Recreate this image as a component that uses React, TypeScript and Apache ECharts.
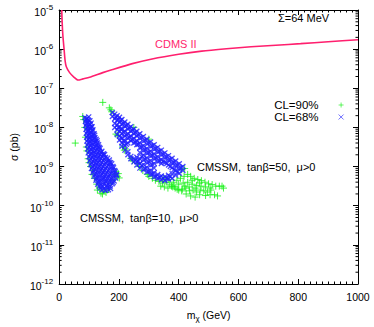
import React, { useEffect, useRef } from "react";
import * as echarts from "echarts";

// ---- axes ----
const xMin = 0;
const xMax = 1000;
const xInterval = 200;
const yMinExp = -12;
const yMaxExp = -5;
const decadeExps = [-12, -11, -10, -9, -8, -7, -6];
const minorMantissas = [2, 3, 4, 5, 6, 7, 8, 9];

// ---- CDMS II limit curve: mass (GeV), log10 sigma (pb) ----
const cdmsMass = [8.8, 10, 12.5, 16.5, 20, 24, 35, 50, 63, 80, 102, 146, 179, 245, 311, 400, 477, 560, 642, 725, 808, 900, 1000];
const cdmsLogSigma = [-5.0, -5.3, -5.65, -6.0, -6.3, -6.45, -6.6, -6.72, -6.79, -6.76, -6.72, -6.6, -6.52, -6.37, -6.25, -6.13, -6.05, -5.99, -5.94, -5.9, -5.86, -5.81, -5.76];

// ---- CMSSM points: [mass GeV, log10 sigma pb] ----
const cl90Tan10: [number, number][] = [
  [54, -8.4], [79, -7.72], [82, -7.8], [86, -8.0], [88, -8.25], [91, -8.5], [93, -8.6], [97, -8.8], [100, -8.9],
  [105, -9.0], [110, -9.2], [113, -9.1], [118, -9.3], [126, -9.45], [128, -9.6], [135, -9.55], [140, -9.68],
  [145, -9.7], [150, -9.62], [157, -9.66], [165, -9.58], [173, -9.42], [180, -9.35], [185, -9.2], [190, -9.13],
  [195, -9.25], [198, -9.18], [201, -9.29],
];
const cl68Tan10: [number, number][] = [
  [86, -7.75], [93, -7.77], [99, -7.73],
  [88, -7.85], [95, -7.87], [103, -7.83],
  [89, -7.95], [97, -7.97], [104, -7.93], [110, -7.98],
  [90, -8.05], [98, -8.07], [106, -8.03], [113, -8.06],
  [91, -8.15], [100, -8.17], [108, -8.13], [117, -8.16],
  [92, -8.25], [101, -8.27], [111, -8.23], [120, -8.26],
  [93, -8.35], [102, -8.37], [112, -8.33], [121, -8.36], [127, -8.34],
  [94, -8.45], [104, -8.47], [114, -8.43], [124, -8.46], [132, -8.44],
  [96, -8.55], [106, -8.57], [116, -8.53], [126, -8.56], [137, -8.54],
  [97, -8.65], [107, -8.67], [118, -8.63], [129, -8.66], [140, -8.64], [148, -8.67],
  [100, -8.75], [110, -8.77], [121, -8.73], [132, -8.76], [143, -8.74], [155, -8.77],
  [102, -8.85], [113, -8.87], [124, -8.83], [135, -8.86], [147, -8.84], [160, -8.87], [168, -8.83],
  [105, -8.95], [116, -8.97], [127, -8.93], [139, -8.96], [151, -8.94], [164, -8.97], [176, -8.93],
  [108, -9.05], [119, -9.07], [131, -9.03], [143, -9.06], [155, -9.04], [168, -9.07], [182, -9.03],
  [112, -9.15], [123, -9.17], [135, -9.13], [147, -9.16], [160, -9.14], [173, -9.17], [188, -9.13],
  [117, -9.25], [128, -9.27], [140, -9.23], [152, -9.26], [165, -9.24], [178, -9.27], [192, -9.23],
  [123, -9.35], [134, -9.37], [146, -9.33], [158, -9.36], [171, -9.34], [184, -9.37],
  [129, -9.45], [141, -9.47], [153, -9.43], [165, -9.46], [178, -9.44],
  [137, -9.55], [149, -9.57], [161, -9.53], [172, -9.56],
  // interleaved rows
  [90, -7.8], [97, -7.81],
  [92, -7.9], [100, -7.91], [107, -7.89],
  [94, -8.0], [102, -8.01], [109, -7.99],
  [95, -8.1], [104, -8.11], [112, -8.09],
  [96, -8.2], [105, -8.21], [114, -8.19], [119, -8.2],
  [97, -8.3], [106, -8.31], [116, -8.29], [124, -8.3],
  [98, -8.4], [108, -8.41], [119, -8.39], [128, -8.4],
  [100, -8.5], [110, -8.51], [121, -8.49], [131, -8.5], [135, -8.51],
  [101, -8.6], [112, -8.61], [123, -8.59], [134, -8.6], [143, -8.61],
  [104, -8.7], [115, -8.71], [126, -8.69], [137, -8.7], [148, -8.71], [152, -8.69],
  [106, -8.8], [117, -8.81], [129, -8.79], [140, -8.8], [151, -8.81], [162, -8.79],
  [109, -8.9], [120, -8.91], [131, -8.89], [143, -8.9], [156, -8.91], [168, -8.89], [172, -8.9],
  [112, -9.0], [123, -9.01], [135, -8.99], [147, -9.0], [160, -9.01], [172, -8.99], [180, -9.0],
  [115, -9.1], [127, -9.11], [139, -9.09], [151, -9.1], [164, -9.11], [178, -9.09], [186, -9.1],
  [120, -9.2], [131, -9.21], [144, -9.19], [156, -9.2], [169, -9.21], [182, -9.19], [192, -9.2],
  [125, -9.3], [137, -9.31], [149, -9.29], [162, -9.3], [175, -9.31], [189, -9.29],
  [131, -9.4], [143, -9.41], [156, -9.39], [169, -9.4], [181, -9.41],
  [135, -9.5], [147, -9.51], [159, -9.49], [171, -9.5],
  [143, -9.6], [155, -9.61], [165, -9.59],
];
const cl90Tan50: [number, number][] = [
  [146, -7.36], [168, -7.5], [173, -7.55], [176, -7.6],
  [190, -8.17], [195, -8.2], [212, -8.5], [218, -8.58], [222, -8.55], [240, -8.79], [245, -8.85],
  [262, -8.92], [268, -9.0], [280, -9.1], [295, -9.2], [250, -8.0], [300, -8.3],
  [300, -9.25], [312, -9.3], [322, -9.35], [334, -9.38], [346, -9.42], [358, -9.4], [370, -9.45],
  [382, -9.4], [394, -9.35], [406, -9.3], [418, -9.25], [430, -9.2], [420, -9.05], [410, -9.08],
  [440, -9.25], [452, -9.3], [464, -9.33], [476, -9.36], [488, -9.4], [500, -9.44], [512, -9.46],
  [524, -9.5], [536, -9.5], [550, -9.55], [545, -9.5],
  [340, -9.5], [352, -9.52], [364, -9.55], [376, -9.5], [388, -9.55], [400, -9.6], [412, -9.58],
  [424, -9.55], [436, -9.62], [448, -9.6], [460, -9.65], [472, -9.6], [484, -9.62], [496, -9.65],
  [508, -9.6], [520, -9.72],
  [380, -9.52], [395, -9.58], [410, -9.62], [425, -9.7], [440, -9.75], [455, -9.78], [470, -9.72],
  [490, -9.74], [505, -9.72], [530, -9.75],
  [400, -9.45], [415, -9.42], [430, -9.4], [445, -9.45], [460, -9.48], [475, -9.5], [490, -9.52],
  [505, -9.55], [445, -9.35], [385, -9.5], [420, -9.5], [350, -9.3], [365, -9.33], [435, -9.52],
  [470, -9.42], [455, -9.55],
];
const cl68Tan50: [number, number][] = [
  [178, -7.62], [178, -7.72],
  [186, -7.66], [186, -7.78], [186, -7.9], [186, -8.0],
  [194, -7.7], [194, -7.82], [194, -7.94], [194, -8.06], [194, -8.18],
  [202, -7.74], [202, -7.86], [202, -7.98], [202, -8.1], [202, -8.22], [202, -8.32],
  [210, -7.8], [210, -7.92], [210, -8.04], [210, -8.16], [210, -8.28], [210, -8.4], [210, -8.48],
  [220, -7.86], [220, -7.98], [220, -8.1], [220, -8.22], [220, -8.34], [220, -8.46], [220, -8.58],
  [230, -7.92], [230, -8.04], [230, -8.16], [230, -8.28], [230, -8.4], [230, -8.62], [230, -8.7],
  [240, -7.98], [240, -8.1], [240, -8.22], [240, -8.34], [240, -8.74], [240, -8.8],
  [250, -8.04], [250, -8.16], [250, -8.28], [250, -8.4], [250, -8.8], [250, -8.88],
  [260, -8.1], [260, -8.22], [260, -8.34], [260, -8.44], [260, -8.76], [260, -8.88], [260, -8.96],
  [270, -8.16], [270, -8.28], [270, -8.4], [270, -8.52], [270, -8.64], [270, -8.8], [270, -8.92], [270, -9.04],
  [282, -8.23], [282, -8.35], [282, -8.47], [282, -8.59], [282, -8.71], [282, -8.83], [282, -8.95], [282, -9.08],
  [294, -8.3], [294, -8.42], [294, -8.54], [294, -8.66], [294, -8.78], [294, -8.9], [294, -9.02], [294, -9.14],
  [306, -8.37], [306, -8.49], [306, -8.61], [306, -8.73], [306, -8.85], [306, -8.97], [306, -9.1], [306, -9.2],
  [318, -8.44], [318, -8.56], [318, -8.68], [318, -8.8], [318, -8.92], [318, -9.04], [318, -9.16], [318, -9.26],
  [330, -8.51], [330, -8.63], [330, -8.75], [330, -8.87], [330, -9.2], [330, -9.3],
  [342, -8.58], [342, -8.7], [342, -8.82], [342, -8.92], [342, -9.24], [342, -9.34],
  [354, -8.65], [354, -8.77], [354, -8.89], [354, -9.26], [354, -9.36],
  [366, -8.72], [366, -8.84], [366, -8.96], [366, -9.22], [366, -9.32],
  [378, -8.79], [378, -8.91], [378, -9.03], [378, -9.18], [378, -9.3],
  [390, -8.86], [390, -8.98], [390, -9.1], [390, -9.22],
  [402, -8.93], [402, -9.05], [402, -9.17],
  [414, -9.0], [414, -9.1],
  // fill-in points between columns
  [190, -7.74], [198, -7.8], [198, -8.0], [206, -7.82], [206, -8.04], [206, -8.26], [215, -7.9], [215, -8.12],
  [215, -8.34], [225, -7.95], [225, -8.19], [225, -8.43], [235, -8.01], [235, -8.25], [245, -8.07], [245, -8.31],
  [255, -8.13], [255, -8.37], [255, -8.84], [265, -8.19], [265, -8.43], [265, -8.86], [276, -8.26], [276, -8.5],
  [276, -8.74], [276, -8.98], [288, -8.33], [288, -8.57], [288, -8.81], [288, -9.05], [300, -8.4], [300, -8.64],
  [300, -8.88], [300, -9.12], [312, -8.47], [312, -8.71], [312, -8.95], [312, -9.19], [324, -8.54], [324, -8.78],
  [324, -9.25], [336, -8.61], [336, -8.85], [336, -9.28], [348, -8.68], [348, -8.88], [348, -9.3], [360, -8.75],
  [360, -8.92], [360, -9.3], [372, -8.82], [372, -9.0], [372, -9.26], [384, -8.89], [384, -9.08], [396, -8.96],
  [396, -9.14], [408, -9.03],
];

const FONT = "'Liberation Sans', Arial, Helvetica, sans-serif";
const GREEN = "#14f014";
const BLUE = "#1f1fff";
const PINK = "#ff1f6e";
const PLUS = "path://M0,5L10,5M5,0L5,10";
const CROSS = "path://M0,0L10,10M10,0L0,10";

const toPts = (arr: [number, number][]) => arr.map(([m, l]) => [m, Math.pow(10, l)]);

export default function App() {
  const ref = useRef<HTMLDivElement>(null);
  useEffect(() => {
    if (!ref.current) return;
    const chart = echarts.init(ref.current, undefined, { renderer: "svg" });
    const minorVals: number[][] = [];
    decadeExps.forEach((e) => minorMantissas.forEach((k) => minorVals.push([xMin, k * Math.pow(10, e)])));

    const yLabel = (v: number) => `{b|10}{s|${Math.round(Math.log10(v))}}`;

    chart.setOption({
      animation: false,
      grid: { left: 56, right: 16, top: 10, bottom: 37 },
      xAxis: [
        {
          type: "value",
          min: xMin,
          max: xMax,
          interval: xInterval,
          position: "bottom",
          name: "{a|m}{sub|χ}{a| (GeV)}",
          nameLocation: "middle",
          nameGap: 24,
          nameTextStyle: {
            rich: {
              a: { fontFamily: FONT, fontSize: 10.5, color: "#000" },
              sub: { fontFamily: FONT, fontSize: 8, color: "#000", padding: [6, 0, 0, 0] },
            },
          },
          axisLine: { show: true, onZero: false, lineStyle: { color: "#000", width: 1 } },
          axisTick: { show: true, inside: true, length: 5, lineStyle: { color: "#000" } },
          minorTick: { show: true, splitNumber: 10, length: 2.5, lineStyle: { color: "#000" } },
          axisLabel: { margin: 7, fontFamily: FONT, fontSize: 10.5, color: "#000", formatter: (v: number) => String(v) },
          splitLine: { show: false },
        },
        {
          type: "value",
          min: xMin,
          max: xMax,
          interval: xInterval,
          position: "top",
          axisLine: { show: true, onZero: false, lineStyle: { color: "#000", width: 1 } },
          axisTick: { show: true, inside: true, length: 5, lineStyle: { color: "#000" } },
          minorTick: { show: true, splitNumber: 10, length: 2.5, lineStyle: { color: "#000" } },
          axisLabel: { show: false },
          splitLine: { show: false },
        },
      ],
      yAxis: [
        {
          type: "log",
          logBase: 10,
          min: Math.pow(10, yMinExp),
          max: Math.pow(10, yMaxExp),
          interval: 1,
          position: "left",
          name: "σ (pb)",
          nameLocation: "middle",
          nameGap: 37,
          nameTextStyle: { fontFamily: FONT, fontSize: 10.5, color: "#000" },
          axisLine: { show: true, onZero: false, lineStyle: { color: "#000", width: 1 } },
          axisTick: { show: true, inside: true, length: 5, lineStyle: { color: "#000" } },
          axisLabel: {
            margin: 6,
            formatter: yLabel,
            rich: {
              b: { fontFamily: FONT, fontSize: 10.5, color: "#000", padding: [4, 0, 0, 0] },
              s: { fontFamily: FONT, fontSize: 8, color: "#000", padding: [0, 0, 5, 0] },
            },
          },
          splitLine: { show: false },
        },
        {
          type: "log",
          logBase: 10,
          min: Math.pow(10, yMinExp),
          max: Math.pow(10, yMaxExp),
          interval: 1,
          position: "right",
          axisLine: { show: true, onZero: false, lineStyle: { color: "#000", width: 1 } },
          axisTick: { show: true, inside: true, length: 5, lineStyle: { color: "#000" } },
          axisLabel: { show: false },
          splitLine: { show: false },
        },
      ],
      legend: {
        data: ["CL=90%", "CL=68%"],
        orient: "vertical",
        right: 25,
        top: 94,
        align: "right",
        itemGap: 0,
        itemWidth: 5,
        itemHeight: 5,
        itemStyle: { borderWidth: 0.8 },
        textStyle: { fontFamily: FONT, fontSize: 11.5, color: "#000", lineHeight: 11, padding: [0, 15, 0, 0] },
      },
      series: [
        {
          type: "custom",
          name: "minorTicks",
          silent: true,
          clip: false,
          encode: { x: 0, y: 1 },
          data: minorVals,
          renderItem: (params: any, api: any) => {
            const v = api.value(1);
            const pL = api.coord([xMin, v]);
            const pR = api.coord([xMax, v]);
            return {
              type: "group",
              children: [
                { type: "line", shape: { x1: pL[0], y1: pL[1], x2: pL[0] + 2.5, y2: pL[1] }, style: { stroke: "#000", lineWidth: 1 } },
                { type: "line", shape: { x1: pR[0], y1: pR[1], x2: pR[0] - 2.5, y2: pR[1] }, style: { stroke: "#000", lineWidth: 1 } },
              ],
            };
          },
        },
        {
          type: "line",
          name: "CDMS II",
          data: cdmsMass.map((m, i) => [m, Math.pow(10, cdmsLogSigma[i])]),
          showSymbol: false,
          smooth: 0.2,
          lineStyle: { color: PINK, width: 1.6 },
          itemStyle: { color: PINK },
        },
        {
          type: "scatter",
          name: "CL=90%",
          data: [...toPts(cl90Tan10), ...toPts(cl90Tan50)],
          symbol: PLUS,
          symbolSize: 7,
          itemStyle: { color: GREEN, borderColor: GREEN, borderWidth: 1 },
        },
        {
          type: "scatter",
          name: "CL=68%",
          data: [...toPts(cl68Tan10), ...toPts(cl68Tan50)],
          symbol: CROSS,
          symbolSize: 5,
          itemStyle: { color: BLUE, borderColor: BLUE, borderWidth: 1.35 },
        },
      ],
      graphic: [
        { type: "text", x: 155, y: 44, style: { text: "CDMS II", fill: PINK, font: `11px ${FONT}`, verticalAlign: "middle" } },
        { type: "text", x: 278, y: 18, style: { text: "Σ=64 MeV", fill: "#000", font: `11px ${FONT}`, verticalAlign: "middle" } },
        { type: "text", x: 197, y: 167, style: { text: "CMSSM,  tanβ=50,  μ>0", fill: "#000", font: `11px ${FONT}`, verticalAlign: "middle" } },
        { type: "text", x: 80, y: 218, style: { text: "CMSSM,  tanβ=10,  μ>0", fill: "#000", font: `11px ${FONT}`, verticalAlign: "middle" } },
      ],
    });
    return () => chart.dispose();
  }, []);
  return <div ref={ref} style={{ width: 374, height: 327, position: "absolute", left: 0, top: 0 }} />;
}
